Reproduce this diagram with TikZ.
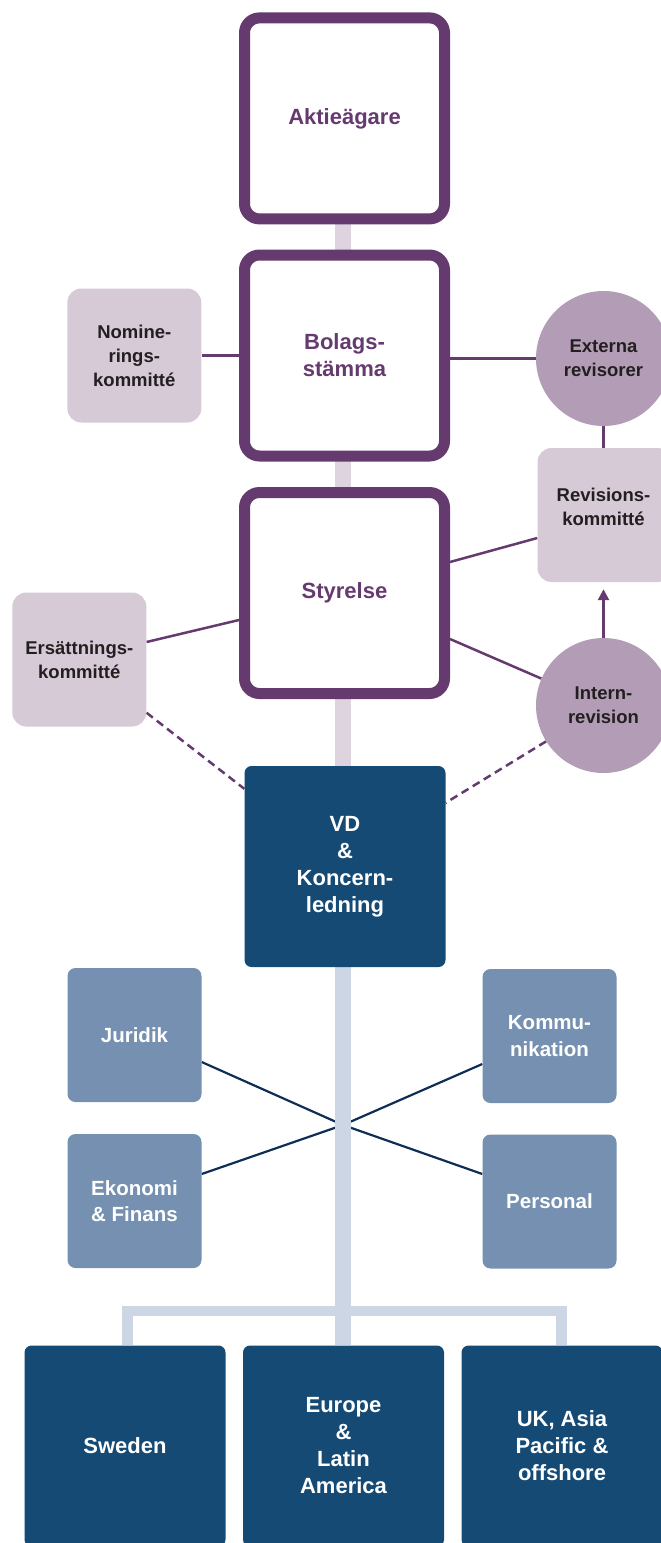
\documentclass[tikz,border=0pt]{standalone}
\usepackage{fontspec}
\setmainfont{Liberation Sans}
\usetikzlibrary{calc,arrows.meta}
\pgfdeclarelayer{bg}
\pgfsetlayers{bg,main}
\definecolor{purp}{HTML}{653A6F}
\definecolor{spineP}{HTML}{DDD4DF}
\definecolor{commfill}{HTML}{D6CAD7}
\definecolor{circfill}{HTML}{B39DB6}
\definecolor{darktext}{HTML}{231F20}
\definecolor{navy}{HTML}{154A75}
\definecolor{staffblue}{HTML}{7590B0}
\definecolor{spineB}{HTML}{CDD6E4}
\definecolor{crossline}{HTML}{0F2E56}
\newcommand{\bigf}{\bfseries\fontsize{22}{27}\selectfont}
\newcommand{\medf}{\bfseries\fontsize{20.5}{26.5}\selectfont}
\newcommand{\smallf}{\bfseries\fontsize{18.5}{24}\selectfont}
\begin{document}
\begin{tikzpicture}[x=1pt,y=-1pt,
  mainbox/.style={draw=purp, line width=11pt, fill=white, rounded corners=15pt,
    minimum width=200pt, minimum height=201pt, inner sep=0pt, text=purp, font=\bigf, align=center},
  comm/.style={fill=commfill, rounded corners=14pt, minimum width=134pt, minimum height=134pt,
    inner sep=0pt, text=darktext, font=\smallf, align=center},
  circ/.style={circle, fill=circfill, minimum size=135pt, inner sep=0pt, text=darktext,
    font=\smallf, align=center},
  navybox/.style={fill=navy, rounded corners=7pt, minimum width=201pt, minimum height=201pt,
    inner sep=0pt, text=white, font=\bigf, align=center},
  staff/.style={fill=staffblue, rounded corners=8pt, minimum width=134pt, minimum height=134pt,
    inner sep=0pt, text=white, font=\medf, align=center},
  txt/.style={inner sep=0pt, text=darktext, font=\smallf, align=center},
  purpline/.style={draw=purp, line width=2.5pt},
  dashline/.style={draw=purp, line width=2.5pt, dash pattern=on 8pt off 5pt},
  crossl/.style={draw=crossline, line width=2.2pt},
  spineUp/.style={draw=spineP, line width=15.5pt},
  spineLow/.style={draw=spineB, line width=15.5pt},
  bracket/.style={draw=spineB, line width=10.5pt}
]
\useasboundingbox (0,0) rectangle (661,1543);

% main purple boxes
\node[mainbox] (akt) at (344.5,118.4) {Aktieägare};
\node[mainbox] (bol) at (344.5,355.5) {Bolags-\\stämma};
\node[mainbox] (sty) at (344.5,593) {Styrelse};

% committees and auditors
\node[comm] (nom) at (134.3,355.5) {Nomine-\\rings-\\kommitté};
\node[circ] (ext) at (603.5,358.5) {Externa\\revisorer};
\node[comm] (rev) at (604.5,515) {};
\node[txt] (revt) at (603.5,506.5) {Revisions-\\kommitté};
\node[comm] (ers) at (79.3,659.5) {Ersättnings-\\kommitté};
\node[circ] (int) at (603.5,705.5) {Intern-\\revision};

% management
\node[navybox] (vd) at (345,866.5) {VD\\\&\\Koncern-\\ledning};

% staff functions
\node[staff] (jur) at (134.5,1035) {Juridik};
\node[staff] (kom) at (549.5,1036) {Kommu-\\nikation};
\node[staff] (eko) at (134.5,1201) {Ekonomi\\\& Finans};
\node[staff] (per) at (549.5,1201.5) {Personal};

% regions
\node[navybox] (swe) at (125,1446) {Sweden};
\node[navybox] (eur) at (343.5,1446) {Europe\\\&\\Latin\\America};
\node[navybox] (uk) at (562,1446) {UK, Asia\\Pacific \&\\offshore};

\coordinate (cross) at (343,1125);
\coordinate (bar) at (343,1311);

\begin{pgfonlayer}{bg}
  % spines
  \draw[spineUp] ($(akt.center)+(-1.5,0)$) -- ($(vd.center)+(-2,0)$);
  \draw[crossl] ($(jur.east)+(0,27)$) -- (cross);
  \draw[crossl] ($(eko.east)+(0,-27)$) -- (cross);
  \draw[crossl] ($(kom.west)+(0,28)$) -- (cross);
  \draw[crossl] ($(per.west)+(0,-27.5)$) -- (cross);
  \draw[spineLow] ($(vd.center)+(-2,0)$) -- ($(eur.north)+(-0.5,0)$);
  \draw[bracket] ($(swe.north)+(2.5,0)$) |- (bar) -| ($(uk.north)+(-0.5,0)$);
  % purple connectors
  \draw[purpline] (nom.east) -- (bol.west |- nom.east);
  \draw[purpline] (bol.east |- ext) -- (ext);
  \draw[purpline] (ext.south) -- (ext.south |- rev.north);
  \draw[purpline] ($(sty.east)+(0,-31)$) -- ($(rev.west)+(0,23)$);
  \draw[purpline] ($(sty.east)+(0,46)$) -- (int);
  \draw[purpline] ($(ers.east)+(0,-17.5)$) -- ($(sty.west)+(0,27)$);
  \draw[purpline, -{Triangle[width=11pt,length=11pt]}, shorten >=7pt] (int.north) -- (int.north |- rev.south);
  \draw[dashline] ($(ers.south east)+(0,-14)$) -- ($(vd.north west)+(0,23)$);
  \draw[dashline] (int.212) -- ($(vd.north east)+(0,37)$);
\end{pgfonlayer}
\end{tikzpicture}
\end{document}
